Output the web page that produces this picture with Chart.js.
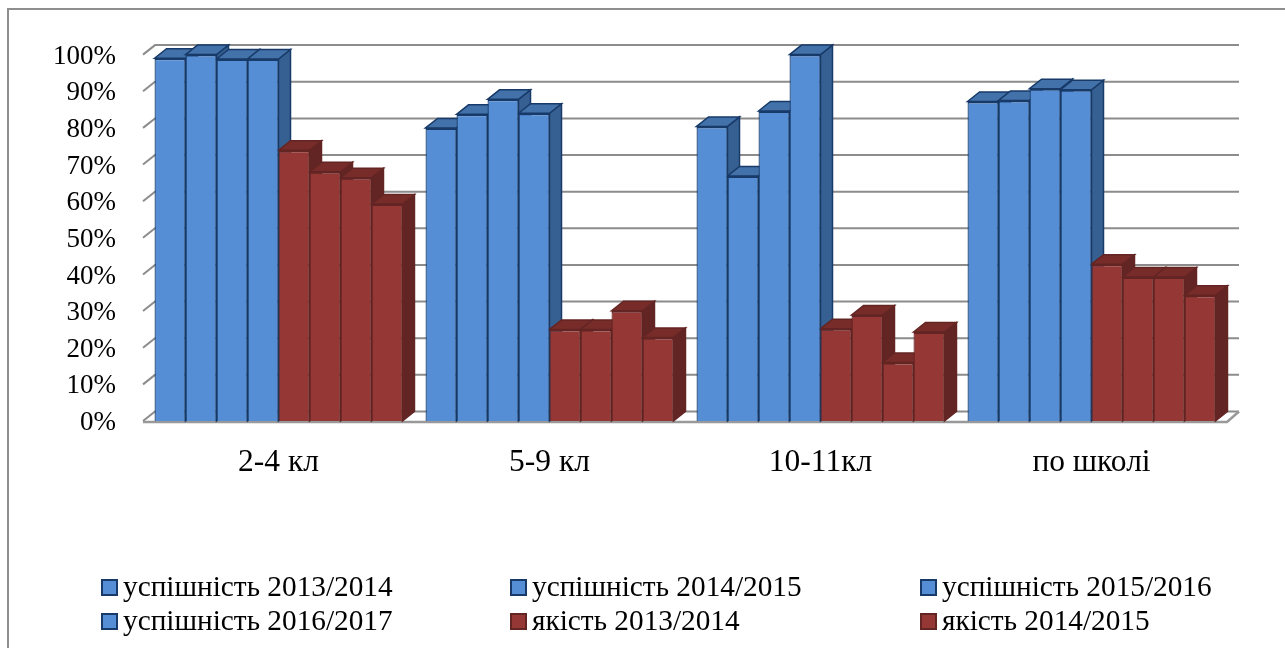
<!DOCTYPE html>
<html lang="uk">
<head>
<meta charset="UTF-8">
<title>Успішність і якість</title>
<script src="https://cdn.jsdelivr.net/npm/chart.js"></script>
<style>
  html, body { margin: 0; padding: 0; background: #fff; overflow: hidden; }
  canvas { display: block; }
</style>
</head>
<body>
<canvas id="grafico" width="1285" height="648"></canvas>
<script>
const categorias = ['2-4 кл', '5-9 кл', '10-11кл', 'по школі'];
const rotulosY = ['0%', '10%', '20%', '30%', '40%', '50%', '60%', '70%', '80%', '90%', '100%'];

const nomesSeries = [
  'успішність 2013/2014', 'успішність 2014/2015', 'успішність 2015/2016', 'успішність 2016/2017',
  'якість 2013/2014', 'якість 2014/2015', 'якість 2015/2016', 'якість 2016/2017'
];

const usp1314 = [99, 80, 80.4, 87.2];
const usp1415 = [100, 83.7, 66.9, 87.5];
const usp1516 = [98.8, 87.8, 84.6, 90.7];
const usp1617 = [98.8, 84, 100, 90.4];
const yak1314 = [73.9, 25, 25.2, 42.8];
const yak1415 = [68, 25, 28.9, 39.3];
const yak1516 = [66.4, 30.1, 16, 39.3];
const yak1617 = [59.2, 22.8, 24.3, 34.3];

const valores = [usp1314, usp1415, usp1516, usp1617, yak1314, yak1415, yak1516, yak1617];

// cores: frente, lado, topo, borda
const azul = { frente: '#558ed5', lado: '#376092', topo: '#4372aa', borda: '#173a68' };
const vermelho = { frente: '#953735', lado: '#632523', topo: '#772c2a', borda: '#632523' };

// deslocamento da parede do fundo em relação à frente
const fundoX = 12;
const fundoY = 9.5;
const fonte = '"Liberation Serif", "Times New Roman", serif';

const caixa3d = {
  id: 'caixa3d',
  beforeDatasetsDraw(chart) {
    const ctx = chart.ctx;
    const y = chart.scales.y;
    const area = chart.chartArea;
    ctx.save();
    // grades da parede do fundo
    ctx.strokeStyle = '#8c8c8c';
    ctx.lineWidth = 2;
    y.ticks.forEach(t => {
      const py = y.getPixelForValue(t.value);
      ctx.beginPath();
      ctx.moveTo(area.left, py);
      ctx.lineTo(area.left + fundoX, py - fundoY);
      ctx.lineTo(area.right + fundoX, py - fundoY);
      ctx.stroke();
    });
    // chão
    ctx.strokeStyle = '#999999';
    ctx.lineWidth = 2.5;
    ctx.beginPath();
    ctx.moveTo(area.left, area.bottom + 1);
    ctx.lineTo(area.right, area.bottom + 1);
    ctx.lineTo(area.right + fundoX, area.bottom - fundoY);
    ctx.stroke();

    // lado e topo das barras, da esquerda para a direita; a frente vem depois
    ctx.lineWidth = 1.5;
    chart.getSortedVisibleDatasetMetas().forEach(meta => {
      const cor = meta.index < 4 ? azul : vermelho;
      meta.data.forEach(bar => {
        const esq = bar.x - bar.width / 2;
        const dir = bar.x + bar.width / 2;
        ctx.strokeStyle = cor.borda;
        ctx.fillStyle = cor.lado;
        ctx.beginPath();
        ctx.moveTo(dir, bar.y);
        ctx.lineTo(dir + fundoX, bar.y - fundoY);
        ctx.lineTo(dir + fundoX, bar.base - fundoY);
        ctx.lineTo(dir, bar.base);
        ctx.closePath();
        ctx.fill();
        ctx.stroke();
        ctx.fillStyle = cor.topo;
        ctx.beginPath();
        ctx.moveTo(esq, bar.y);
        ctx.lineTo(esq + fundoX, bar.y - fundoY);
        ctx.lineTo(dir + fundoX, bar.y - fundoY);
        ctx.lineTo(dir, bar.y);
        ctx.closePath();
        ctx.fill();
        ctx.stroke();
      });
    });
    ctx.restore();
  },
  afterDraw(chart) {
    const ctx = chart.ctx;
    ctx.save();
    // moldura, sem lado direito
    ctx.strokeStyle = '#8e8e8e';
    ctx.lineWidth = 2;
    ctx.beginPath();
    ctx.moveTo(8, 648);
    ctx.lineTo(8, 9);
    ctx.lineTo(1285, 9);
    ctx.stroke();
    // legenda: só as seis primeiras séries aparecem, o resto está cortado
    const colunas = [102, 511, 921];
    const linhas = [588, 622];
    ctx.font = '29.3px ' + fonte;
    ctx.textBaseline = 'middle';
    ctx.textAlign = 'left';
    nomesSeries.slice(0, 6).forEach((nome, i) => {
      const x = colunas[i % 3];
      const y = linhas[Math.floor(i / 3)];
      const cor = i < 4 ? azul : vermelho;
      ctx.fillStyle = cor.frente;
      ctx.strokeStyle = cor.borda;
      ctx.lineWidth = 2;
      ctx.fillRect(x, y - 8, 15, 15);
      ctx.strokeRect(x, y - 8, 15, 15);
      ctx.fillStyle = '#000';
      ctx.fillText(nome, x + 21, y);
    });
    ctx.restore();
  }
};

new Chart(document.getElementById('grafico'), {
  type: 'bar',
  data: {
    labels: categorias,
    datasets: valores.map((v, i) => {
      const cor = i < 4 ? azul : vermelho;
      return {
        label: nomesSeries[i],
        data: v,
        backgroundColor: cor.frente,
        borderColor: cor.borda,
        borderWidth: { left: 1.25, right: 1.25, top: 2, bottom: 0 },
        borderSkipped: false,
        categoryPercentage: 0.915,
        barPercentage: 1
      };
    })
  },
  plugins: [caixa3d],
  options: {
    responsive: false,
    animation: false,
    layout: { padding: { top: 54.6, right: 58, left: 0, bottom: 0 } },
    plugins: { legend: { display: false }, tooltip: { enabled: false }, title: { display: false } },
    scales: {
      x: {
        grid: { display: false },
        border: { display: false },
        afterFit(s) { s.height = 227; },
        ticks: { color: '#000', padding: 15, maxRotation: 0, font: { family: fonte, size: 31.5 } }
      },
      y: {
        min: 0,
        max: 100,
        grid: { display: false },
        border: { display: false },
        afterFit(s) { s.width = 143; },
        ticks: {
          stepSize: 10,
          color: '#000',
          padding: 19,
          labelOffset: 2,
          font: { family: fonte, size: 27 },
          callback: (valor) => rotulosY[valor / 10]
        }
      }
    }
  }
});
</script>
</body>
</html>
